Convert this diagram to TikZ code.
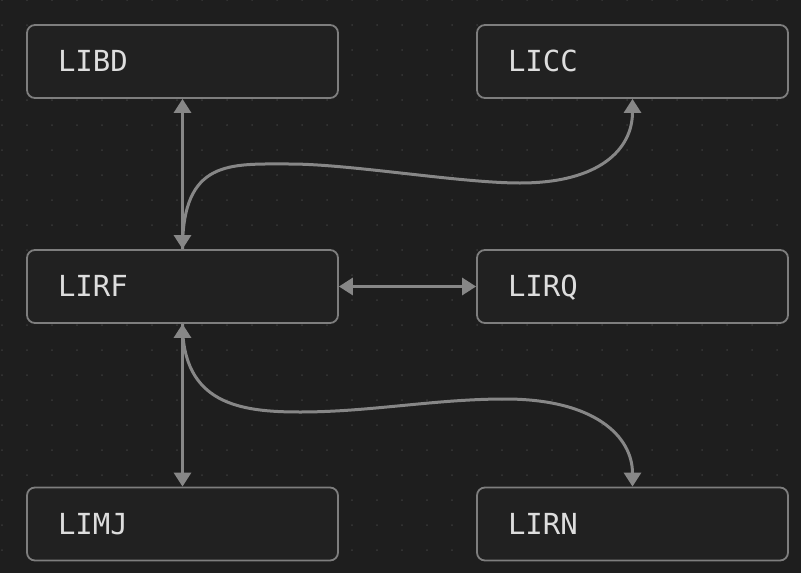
\documentclass[tikz,border=0pt]{standalone}
\usepackage{fontspec}
\setmonofont{DejaVu Sans Mono}
\usepackage{xcolor}
\usetikzlibrary{arrows.meta}

\definecolor{bgcol}{HTML}{1E1E1E}
\definecolor{dotcol}{HTML}{383838}
\definecolor{boxfill}{HTML}{212121}
\definecolor{boxline}{HTML}{7E7E7E}
\definecolor{linkcol}{HTML}{878787}
\definecolor{labelcol}{HTML}{DDDDDD}

\begin{document}
\begin{tikzpicture}[x=1pt, y=-1pt,
		>={Triangle[width=17pt,length=14pt]},
		box/.style={draw=boxline, fill=boxfill, line width=1.8pt, rounded corners=8pt,
			text width=249pt, inner xsep=31pt, inner ysep=0pt, minimum height=73pt,
			text height=20.4pt, text depth=0pt, align=left, text=labelcol,
			font=\fontsize{29}{35}\selectfont\ttfamily},
		link/.style={draw=linkcol, line width=3pt}]
				% Background and dot grid
				\fill[bgcol] (0,0) rectangle (801,573);
				\useasboundingbox (0,0) rectangle (801,573);
				\foreach \i in {0,...,32}
					\foreach \j in {0,...,22}
						\fill[dotcol] (2+25*\i,25*\j) circle (1pt);
				
				% Boxes
				\node[box] (bd) at (182.5,61.5) {LIBD};
				\node[box] (cc) at (632.5,61.5) {LICC};
				\node[box] (rf) at (182.5,286.5) {LIRF};
				\node[box] (rq) at (632.5,286.5) {LIRQ};
				\node[box] (mj) at (182.5,524) {LIMJ};
				\node[box] (rn) at (632.5,524) {LIRN};
				
				% Straight links
				\draw[link, <->] (bd) -- (rf);
				\draw[link, <->] (rf) -- (rq);
				\draw[link, <->] (rf) -- (mj);
				
				% Curved links
				\draw[link, ->] (rf.north) .. controls +(0,-90) and +(-60,0) .. (290,164)
					.. controls +(60,0) and +(-60,0) .. (520,183)
					.. controls +(80,0) and +(0,50) .. (cc.south);
				\draw[link, ->] (rf.south) .. controls +(0,80) and +(-60,0) .. (300,412)
					.. controls +(70,0) and +(-70,0) .. (505,399)
					.. controls +(90,0) and +(0,-50) .. (rn.north);
\end{tikzpicture}
\end{document}
